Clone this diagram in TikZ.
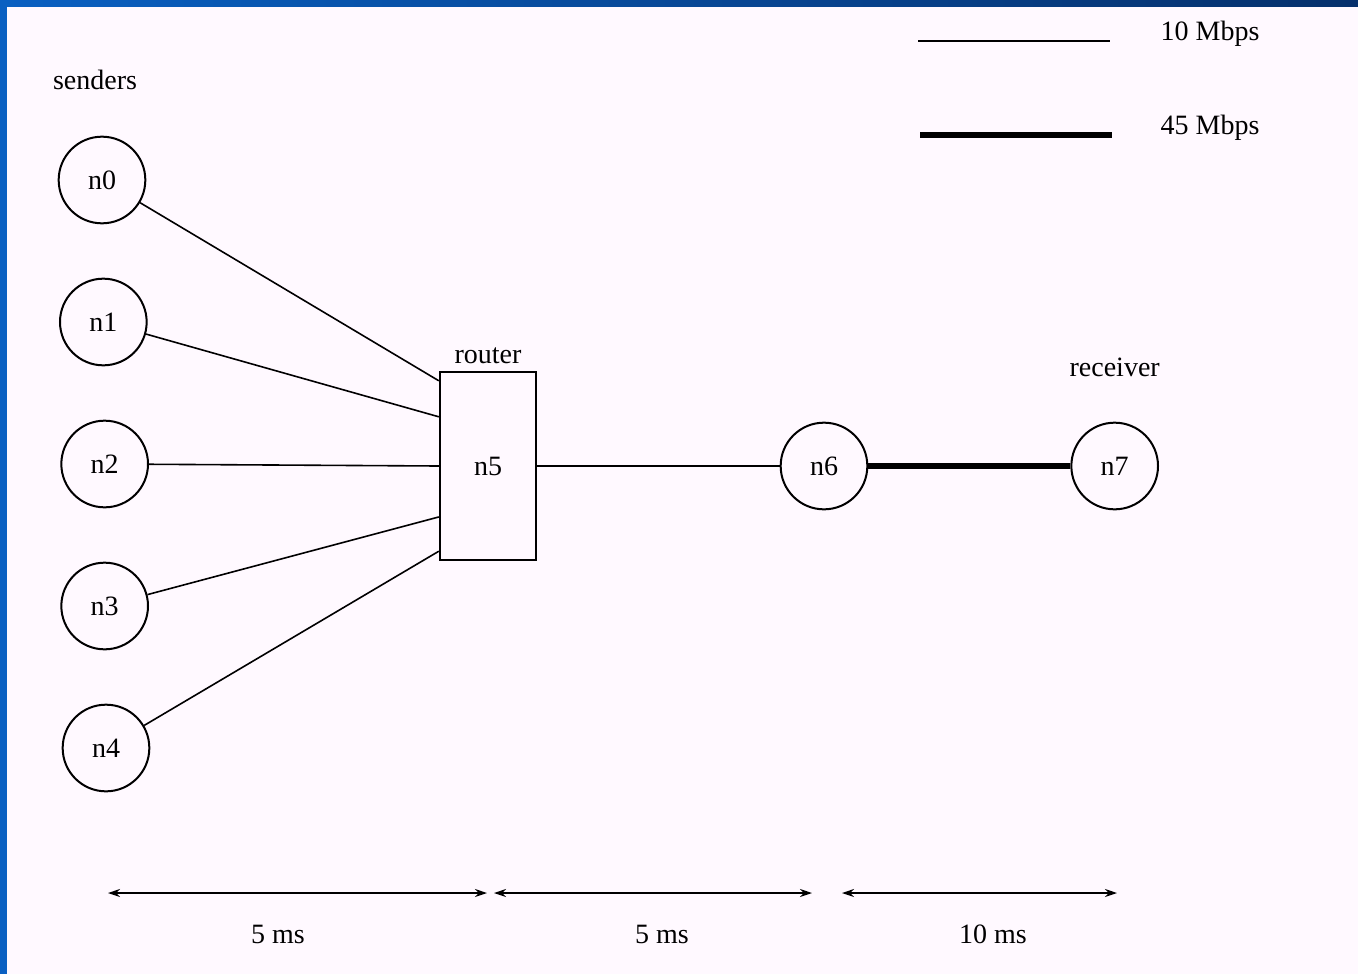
\documentclass[tikz,border=0pt]{standalone}
\usepackage{fontspec}
\setmainfont{Liberation Serif}
\usetikzlibrary{shapes, arrows.meta, positioning, calc}

\definecolor{slidebg}{HTML}{FFF9FF}
\definecolor{slideblue}{HTML}{0A60C2}
\definecolor{slidedark}{HTML}{06306C}

\begin{document}
\begin{tikzpicture}[
  x=0.75pt, y=-0.75pt,
  node distance=40pt,
  font=\fontsize{21}{25}\selectfont,
  host/.style={circle, draw, line width=1.5pt, minimum size=65pt, inner sep=0pt},
  router/.style={rectangle, draw, line width=1.8pt, minimum width=72pt, minimum height=141pt, inner sep=0pt},
  slow/.style={line width=1.2pt},
  fast/.style={line width=4.6pt},
  dimarrow/.style={<->, line width=1.2pt, >={Stealth[length=9pt,width=6pt]}},
  annabove/.style={above=2pt},
]

% Slide frame
\useasboundingbox (0,0) rectangle (1358,974);
\fill[slidebg] (0,0) rectangle (1358,974);
\fill[slideblue] (0,0) rectangle (7,974);
\shade[left color=slideblue, right color=slidedark] (0,0) rectangle (1358,7);

% Senders
\node[host] (n0) at (102,180) {n0};
\node[host, below=of n0, xshift=1pt] (n1) {n1};
\node[host, below=of n1, xshift=1pt] (n2) {n2};
\node[host, below=of n2] (n3) {n3};
\node[host, below=of n3, xshift=1pt] (n4) {n4};
\node[anchor=center] (senders) at (95,80) {senders};

% Router and receiver side
\node[router] (n5) at (488,466) {n5};
\node[annabove] (routerlbl) at (n5.north) {router};
\node[host] (n6) at (824,466) {n6};
\node[host, right=151.5pt of n6] (n7) {n7};
\node[above=30pt] (receiver) at (n7.north) {receiver};

% Links
\draw[slow] (n0) -- (n5.120);
\draw[slow] (n1) -- (n5.135);
\draw[slow] (n2) -- (n5.west);
\draw[slow] (n3) -- (n5.226);
\draw[slow] (n4) -- (n5.240);
\draw[slow] (n5.east) -- (n6);
\draw[fast] (n6) -- (n7);

% Legend
\coordinate (legslowa) at (918,41);
\coordinate (legslowb) at (1110,41);
\coordinate (legfasta) at (920,135);
\coordinate (legfastb) at (1112,135);
\draw[slow] (legslowa) -- (legslowb);
\draw[line width=5.2pt] (legfasta) -- (legfastb);
\node[anchor=west] (leg10) at (1156,34) {10 Mbps};
\node[anchor=west] (leg45) at (1156,128) {45 Mbps};

% Delays
\coordinate (d1) at (108,893);
\coordinate (d2) at (487,893);
\coordinate (d3) at (494,893);
\coordinate (d4) at (812,893);
\coordinate (d5) at (842,893);
\coordinate (d6) at (1117,893);
\draw[dimarrow] (d1) -- (d2);
\draw[dimarrow] (d3) -- (d4);
\draw[dimarrow] (d5) -- (d6);
\node (delay1) at (278,934) {5 ms};
\node (delay2) at (662,934) {5 ms};
\node (delay3) at (993,934) {10 ms};

\end{tikzpicture}
\end{document}
